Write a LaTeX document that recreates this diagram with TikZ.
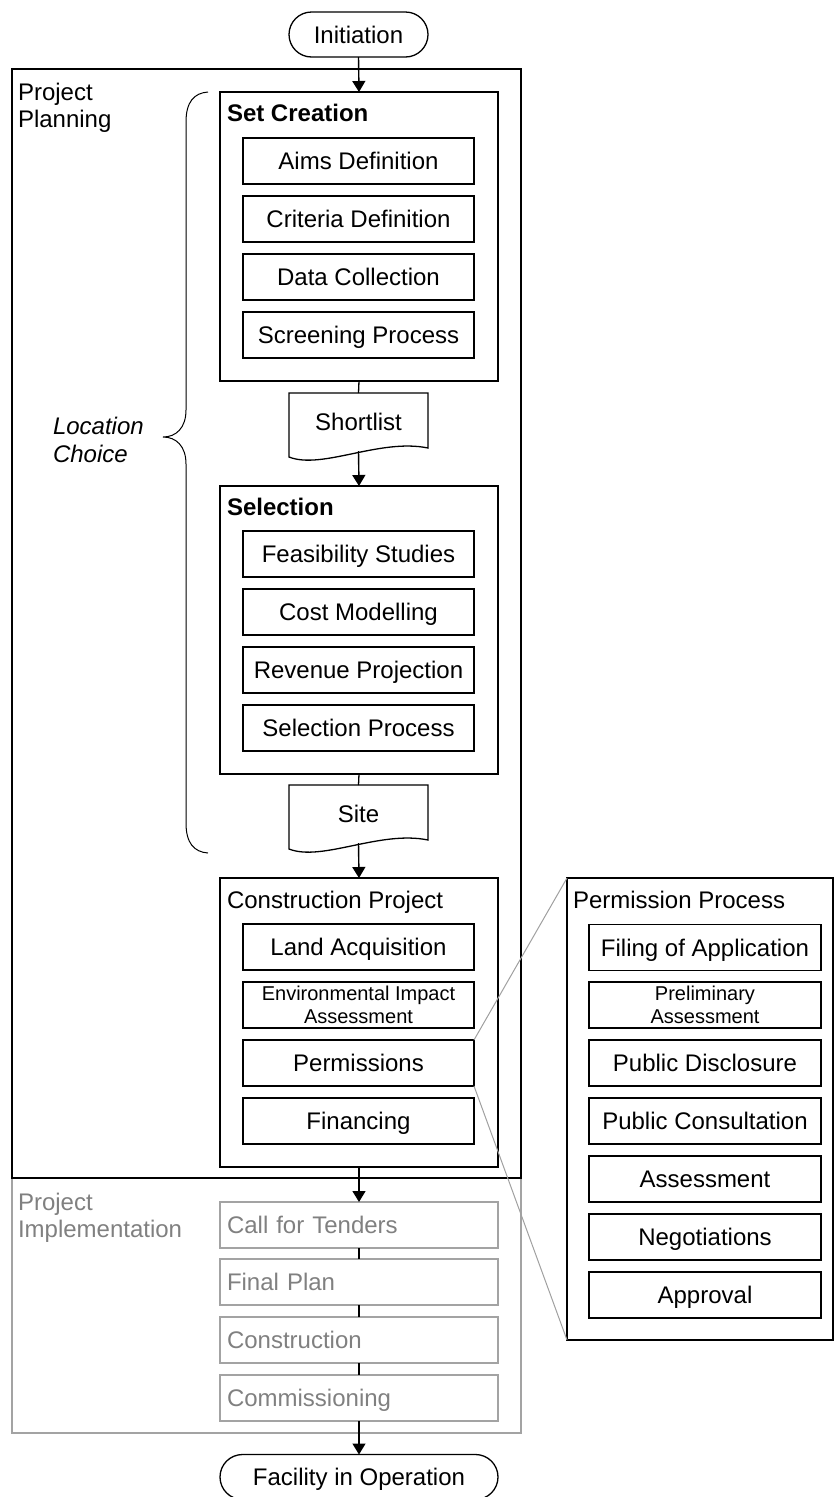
\documentclass[tikz,border=0pt]{standalone}
\usepackage{fontspec}
\setmainfont{Liberation Sans}
\usetikzlibrary{arrows.meta,calc}
\definecolor{implline}{RGB}{163,163,163}
\definecolor{impltext}{RGB}{128,128,128}
\definecolor{zoomline}{RGB}{160,160,160}

% document shape (flowchart "document") drawn around a named node
\newcommand\docshape[1]{%
  \draw[ln] ($(#1.south west)+(0,6)$) -- (#1.north west) -- (#1.north east)
    -- ($(#1.south east)+(0,-3)$)
    .. controls ($(#1.south east)+(-48,-13)$) and ($(#1.south west)+(33,19)$)
    .. ($(#1.south west)+(0,6)$) -- cycle;}

\begin{document}
\begin{tikzpicture}[x=1pt,y=-1pt,
  every node/.style={inner sep=0pt, outer sep=0pt},
  txt/.style={font=\fontsize{24}{27}\selectfont},
  smalltxt/.style={font=\fontsize{20}{23}\selectfont},
  ln/.style={line width=1.3pt},
  arr/.style={line width=1.4pt, -{Triangle[width=13pt,length=11pt]}},
  oneline/.style={text height=17.2pt, text depth=0pt},
  box/.style={draw, ln, txt},
  item/.style={box, oneline, minimum width=231, minimum height=46},
  twoitem/.style={box, smalltxt, align=center, minimum width=231, minimum height=46},
  pitem/.style={item, minimum width=232},
  ptwoitem/.style={twoitem, minimum width=232},
  cont/.style={draw, ln, anchor=north west},
  gitem/.style={draw=implline, ln, txt, text=impltext, oneline, text width=264pt,
    align=left, minimum width=278, minimum height=46},
  term/.style={box, oneline, rounded corners=22.5pt, minimum height=45},
  doc/.style={txt, oneline, minimum width=139, minimum height=58},
  lbl/.style={txt, anchor=base west},
  bold/.style={font=\fontsize{24}{27}\selectfont\bfseries},
  zoomln/.style={draw=zoomline, line width=1pt}
]
\useasboundingbox (0,0) rectangle (835,1497);
\clip (0,0) rectangle (835,1497);

% phase frames
\node[cont, draw=implline, minimum width=509, minimum height=255] (impl) at (12,1178) {};
\node[cont, minimum width=509, minimum height=1109] (plan) at (12,69) {};
\node[txt, align=left, anchor=north west] (planlbl) at (18,83.4) {Project\\Planning};
\node[txt, text=impltext, align=left, anchor=north west] (impllbl) at (18,1193.4) {Project\\Implementation};

% terminals
\node[term, minimum width=139] (init) at (358.5,34.5) {Initiation};
\node[term, minimum width=278] (fac) at (359,1477) {Facility in Operation};

% set creation
\node[cont, minimum width=278, minimum height=289] (setc) at (220,92) {};
\node[lbl, bold] (setlbl) at (227,121.6) {Set Creation};
\node[item] (aims) at (358.5,161) {Aims Definition};
\node[item] (crit) at (358.5,219) {Criteria Definition};
\node[item] (data) at (358.5,277) {Data Collection};
\node[item] (scr) at (358.5,335) {Screening Process};

\node[doc] (short) at (358.5,422) {Shortlist};
\docshape{short}

% selection
\node[cont, minimum width=278, minimum height=288] (sel) at (220,486) {};
\node[lbl, bold] (sellbl) at (227,515.6) {Selection};
\node[item] (feas) at (358.5,554) {Feasibility Studies};
\node[item] (cost) at (358.5,612) {Cost Modelling};
\node[item] (rev) at (358.5,670) {Revenue Projection};
\node[item] (selp) at (358.5,728) {Selection Process};

\node[doc] (site) at (358.5,814) {Site};
\docshape{site}

% location choice brace
\draw[line width=1pt] (208,92) .. controls (194,93) and (186,102) .. (186,122)
  -- (186,410) .. controls (186,428) and (176,437) .. (163,437)
  .. controls (176,437) and (186,446) .. (186,464)
  -- (186,823) .. controls (186,843) and (194,852) .. (208,853);
\node[txt, font=\fontsize{24}{28}\selectfont\itshape, align=left, anchor=north west] (loclbl) at (53,417.4) {Location\\Choice};

% construction project
\node[cont, minimum width=278, minimum height=289] (cons) at (220,878) {};
\node[lbl] (conslbl) at (227,908.6) {Construction Project};
\node[item] (land) at (358.5,947) {Land Acquisition};
\node[twoitem] (eia) at (358.5,1005) {Environmental Impact\\Assessment};
\node[item] (perm) at (358.5,1063) {Permissions};
\node[item] (fin) at (358.5,1121) {Financing};

% permission process detail
\node[cont, minimum width=266, minimum height=462] (pp) at (567,878) {};
\node[lbl] (pplbl) at (573,908.6) {Permission Process};
\node[pitem] (filing) at (705,947.5) {Filing of Application};
\node[ptwoitem] (prelim) at (705,1005) {Preliminary\\Assessment};
\node[pitem] (pubd) at (705,1063) {Public Disclosure};
\node[pitem] (pubc) at (705,1121) {Public Consultation};
\node[pitem] (assess) at (705,1179) {Assessment};
\node[pitem] (nego) at (705,1237) {Negotiations};
\node[pitem] (appr) at (705,1295) {Approval};

\draw[zoomln] (perm.north east) -- (pp.north west);
\draw[zoomln] (perm.south east) -- (pp.south west);

% implementation steps
\node[gitem] (cft) at (359,1225) {Call for Tenders};
\node[gitem] (fplan) at (359,1282) {Final Plan};
\node[gitem] (constr) at (359,1340) {Construction};
\node[gitem] (comm) at (359,1398) {Commissioning};

% connectors
\draw[arr] (init.south) -- (setc.north);
\draw[ln] (setc.south) -- (short.north);
\draw[arr] (short.south) -- (sel.north);
\draw[ln] (sel.south) -- (site.north);
\draw[arr] (site.south) -- (cons.north);
\draw[arr] (cons.south) -- (cft.north);
\draw[ln] (cft.south) -- (fplan.north);
\draw[ln] (fplan.south) -- (constr.north);
\draw[ln] (constr.south) -- (comm.north);
\draw[arr] (comm.south) -- (fac.north);
\end{tikzpicture}
\end{document}
